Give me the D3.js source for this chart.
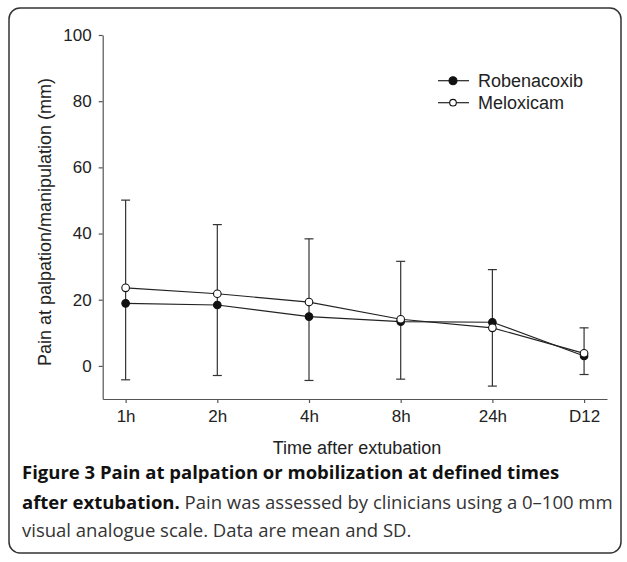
<!DOCTYPE html>
<html>
<head>
<meta charset="utf-8">
<script src="https://cdn.jsdelivr.net/npm/d3@7"></script>
<style>
  html, body { margin: 0; padding: 0; background: #fff; }
  svg { display: block; }
  .axis text { font-family: "Liberation Sans", Arial, sans-serif; font-size: 17px; fill: #222; }
  .axis path, .axis line { stroke: #555; stroke-width: 1.2; }
  .lbl { font-family: "Liberation Sans", Arial, sans-serif; font-size: 18px; fill: #222; }
  .cap { font-family: "Open Sans", sans-serif; font-size: 18.5px; fill: #333; }
  .cap tspan.b { font-weight: bold; fill: #111; }
</style>
</head>
<body>
<svg id="chart" width="627" height="562"></svg>
<script>
/* ---------------- data ---------------- */
const times       = ['1h', '2h', '4h', '8h', '24h', 'D12'];
const robenacoxib = [18.9, 18.4, 14.9, 13.4, 13.2, 3.0];
const meloxicam   = [23.6, 21.8, 19.3, 14.1, 11.5, 3.8];
const errTop      = [50.1, 42.7, 38.4, 31.6, 29.1, 11.5];
const errBottom   = [-4.2, -2.9, -4.4, -4.0, -6.1, -2.6];
const yTicks      = [0, 20, 40, 60, 80, 100];
const seriesNames = ['Robenacoxib', 'Meloxicam'];

/* ---------------- setup ---------------- */
const svg = d3.select('#chart');

// rounded frame around figure + caption
svg.append('rect')
  .attr('x', 9).attr('y', 8)
  .attr('width', 612).attr('height', 545)
  .attr('rx', 11).attr('ry', 11)
  .attr('fill', 'none').attr('stroke', '#333').attr('stroke-width', 1.5);

const xScale = d3.scalePoint().domain(times).range([102.7, 607]).padding(0.25);
const yScale = d3.scaleLinear().domain([-10, 100]).range([399, 35]);

svg.append('g')
  .attr('class', 'axis')
  .attr('transform', 'translate(102.7,0)')
  .call(d3.axisLeft(yScale).tickValues(yTicks).tickSize(4).tickSizeOuter(0).tickPadding(7));

svg.append('g')
  .attr('class', 'axis')
  .attr('transform', 'translate(0,399)')
  .call(d3.axisBottom(xScale).tickSize(4).tickSizeOuter(0).tickPadding(7));

// axis titles
svg.append('text')
  .attr('class', 'lbl')
  .attr('transform', 'translate(51,222) rotate(-90)')
  .attr('text-anchor', 'middle')
  .text('Pain at palpation/manipulation (mm)');

svg.append('text')
  .attr('class', 'lbl')
  .attr('x', 357).attr('y', 454)
  .attr('text-anchor', 'middle')
  .text('Time after extubation');

/* ---------------- error bars ---------------- */
const rows = times.map((t, i) => ({t, hi: errTop[i], lo: errBottom[i]}));
const eb = svg.append('g').attr('stroke', '#333').attr('stroke-width', 1.2);
eb.selectAll('line.v').data(rows).join('line').attr('class', 'v')
  .attr('x1', d => xScale(d.t)).attr('x2', d => xScale(d.t))
  .attr('y1', d => yScale(d.hi)).attr('y2', d => yScale(d.lo));
eb.selectAll('line.ct').data(rows).join('line').attr('class', 'ct')
  .attr('x1', d => xScale(d.t) - 4.5).attr('x2', d => xScale(d.t) + 4.5)
  .attr('y1', d => yScale(d.hi)).attr('y2', d => yScale(d.hi));
eb.selectAll('line.cb').data(rows).join('line').attr('class', 'cb')
  .attr('x1', d => xScale(d.t) - 4.5).attr('x2', d => xScale(d.t) + 4.5)
  .attr('y1', d => yScale(d.lo)).attr('y2', d => yScale(d.lo));

/* ---------------- lines + markers ---------------- */
const lineGen = d3.line().x((d, i) => xScale(times[i])).y(d => yScale(d));
const series = [
  {name: seriesNames[0], vals: robenacoxib, fill: '#111'},
  {name: seriesNames[1], vals: meloxicam,   fill: '#fff'}
];

series.forEach(s => {
  svg.append('path').datum(s.vals)
    .attr('d', lineGen)
    .attr('fill', 'none').attr('stroke', '#222').attr('stroke-width', 1.2);
});
series.forEach(s => {
  svg.append('g').selectAll('circle').data(s.vals).join('circle')
    .attr('cx', (d, i) => xScale(times[i]))
    .attr('cy', d => yScale(d))
    .attr('r', 3.8)
    .attr('fill', s.fill).attr('stroke', '#111').attr('stroke-width', 1.1);
});

/* ---------------- legend ---------------- */
const legend = svg.append('g');
series.forEach((s, i) => {
  const y = 80.7 + i * 22;
  legend.append('line').attr('x1', 438).attr('x2', 469).attr('y1', y).attr('y2', y)
    .attr('stroke', '#222').attr('stroke-width', 1.2);
  legend.append('circle').attr('cx', 453).attr('cy', y).attr('r', i ? 3.3 : 4)
    .attr('fill', s.fill).attr('stroke', '#111').attr('stroke-width', 1.1);
  legend.append('text').attr('class', 'lbl')
    .attr('x', 478).attr('y', y).attr('dy', '0.36em')
    .text(s.name);
});

/* ---------------- caption ---------------- */
const cap = svg.append('text').attr('class', 'cap');
cap.append('tspan').attr('class', 'b').attr('x', 22).attr('y', 479)
  .text('Figure 3 Pain at palpation or mobilization at defined times');
cap.append('tspan').attr('class', 'b').attr('x', 22).attr('y', 509)
  .text('after extubation.');
cap.append('tspan').text(' Pain was assessed by clinicians using a 0\u2013100 mm');
cap.append('tspan').attr('x', 22).attr('y', 537)
  .text('visual analogue scale. Data are mean and SD.');
</script>
</body>
</html>
